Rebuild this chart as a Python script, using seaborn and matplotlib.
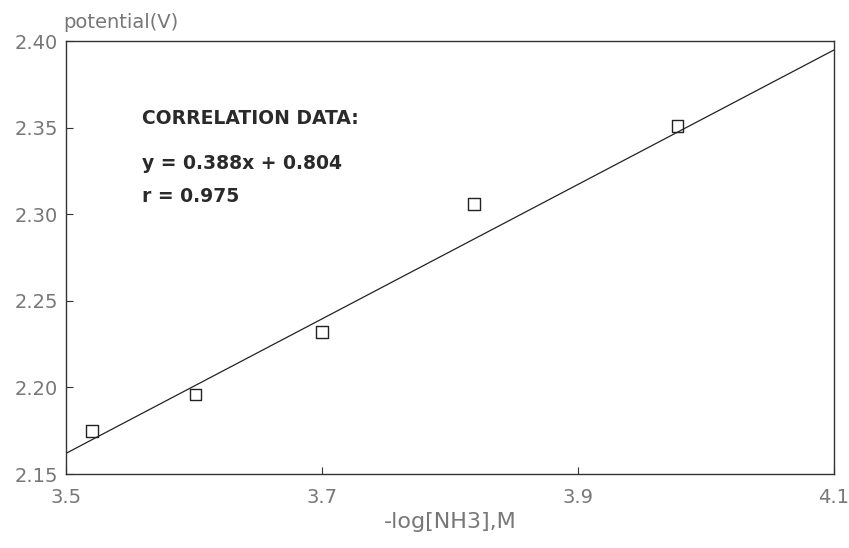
import numpy as np
import pandas as pd
import matplotlib
matplotlib.use("Agg")
import matplotlib.pyplot as plt
import seaborn as sns

# measured points: -log[NH3] vs potential
log_nh3 = [3.520, 3.601, 3.700, 3.819, 3.978]
potential = [2.175, 2.196, 2.232, 2.306, 2.351]

# fit reported on the chart
slope = 0.388
intercept = 0.804
r_value = 0.975
fit_x = [3.5, 4.1]

x_ticks = [3.5, 3.7, 3.9, 4.1]
y_ticks = [2.15, 2.20, 2.25, 2.30, 2.35, 2.40]

sns.set_style("white")
plt.rcParams['font.family'] = ['DejaVu Sans']

df = pd.DataFrame({'x': log_nh3, 'y': potential})
fit = pd.DataFrame({'x': fit_x, 'y': [slope * v + intercept for v in fit_x]})

fig = plt.figure(figsize=(8.49, 5.48), dpi=100)
ax = fig.add_axes([0.078, 0.135, 0.904, 0.79])

sns.lineplot(data=fit, x='x', y='y', ax=ax, color='#222222', linewidth=0.9)
sns.scatterplot(data=df, x='x', y='y', ax=ax, marker='s', s=70,
                facecolor='none', edgecolor='#222222', linewidth=1.0)

ax.set_xlim(3.5, 4.1)
ax.set_ylim(2.15, 2.40)
ax.set_xticks(x_ticks)
ax.set_xticklabels(['3.5', '3.7', '3.9', '4.1'])
ax.set_yticks(y_ticks)
ax.set_yticklabels([f'{v:.2f}' for v in y_ticks])
ax.tick_params(bottom=True, left=True, direction='in', length=5, width=0.8,
               colors='#333333', labelcolor='#777777', labelsize=14)
ax.tick_params(axis='x', pad=10)
ax.tick_params(axis='y', pad=6)

for s in ax.spines.values():
    s.set_color('#333333')
    s.set_linewidth(1.0)

ax.set_xlabel('-log[NH3],M', fontsize=16, color='#777777', labelpad=4)
ax.set_ylabel('')
fig.text(0.074, 0.942, 'potential(V)', fontsize=14, color='#777777',
         ha='left', va='bottom')

ax.text(0.099, 0.822, 'CORRELATION DATA:', transform=ax.transAxes,
        fontsize=13.5, fontweight='bold', color='#2a2a2a', va='center')
ax.text(0.099, 0.718, f'y = {slope}x + {intercept}', transform=ax.transAxes,
        fontsize=13.5, fontweight='bold', color='#2a2a2a', va='center')
ax.text(0.099, 0.642, f'r = {r_value}', transform=ax.transAxes,
        fontsize=13.5, fontweight='bold', color='#2a2a2a', va='center')

fig.savefig('out.png', dpi=100)
